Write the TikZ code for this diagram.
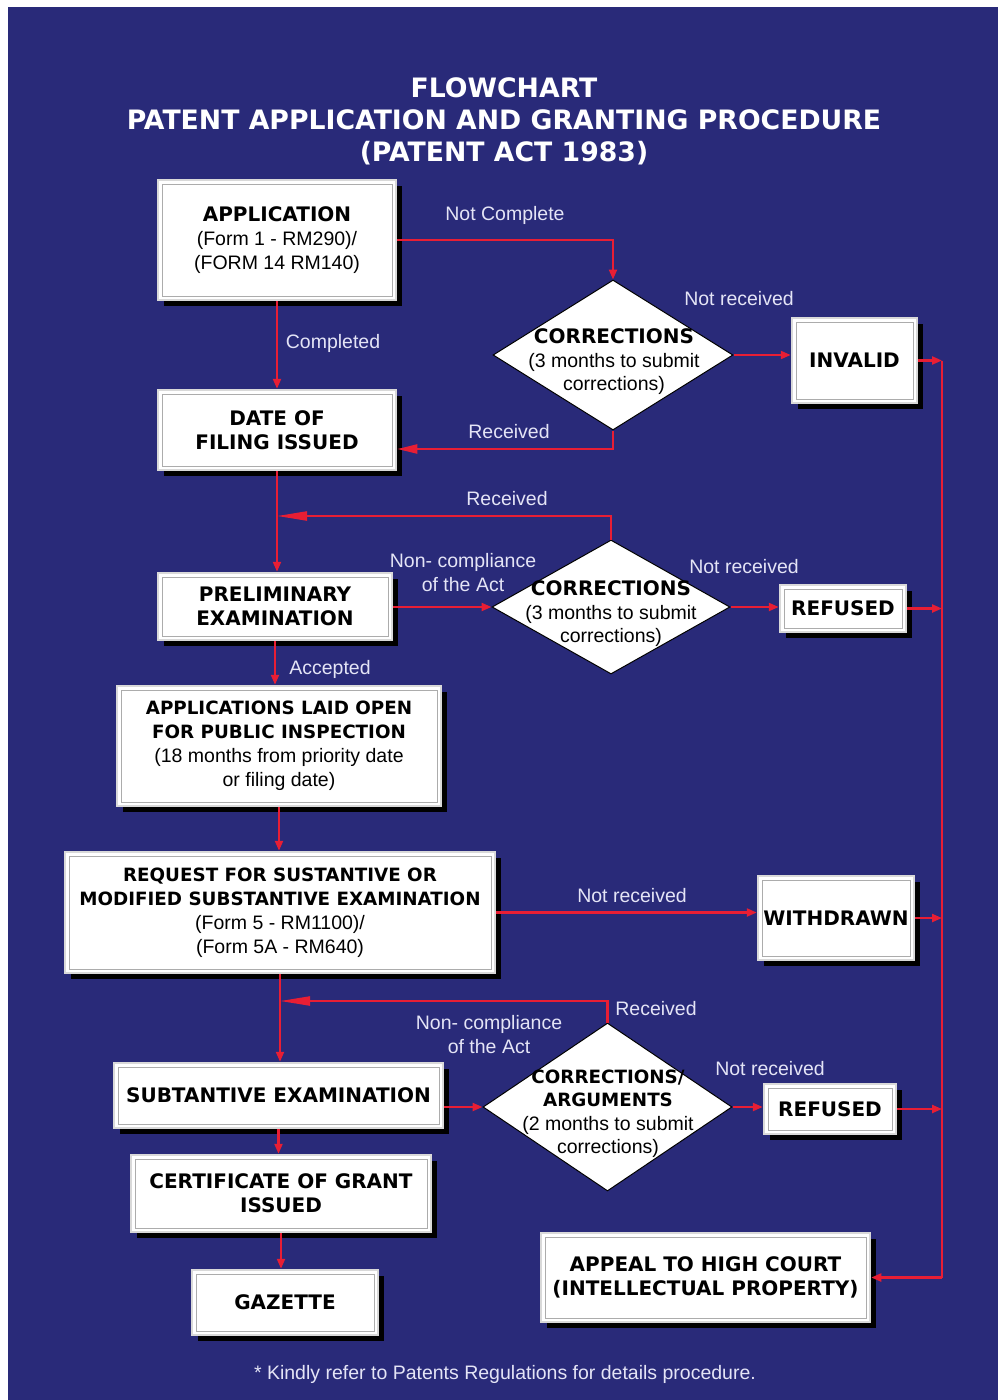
\documentclass[tikz,border=0pt]{standalone}
\usepackage{fontspec}
\setmainfont{Liberation Sans}
\newfontfamily\dvs{DejaVu Sans}
\usetikzlibrary{shapes.geometric,arrows.meta,shadows}
\definecolor{bgblue}{RGB}{41,42,121}
\definecolor{linered}{RGB}{232,30,52}
\definecolor{lbl}{RGB}{228,228,246}
\newcommand{\hb}{\dvs\bfseries\fontsize{20}{24}\selectfont}
\newcommand{\hbs}{\dvs\bfseries\fontsize{18.3}{23.5}\selectfont}
\newcommand{\rg}{\rmfamily\mdseries\fontsize{19.5}{24}\selectfont}
\newcommand{\rgd}{\rmfamily\mdseries\fontsize{19.5}{23.5}\selectfont}
\begin{document}
\begin{tikzpicture}[x=1pt,y=-1pt,
  box/.style={rectangle, fill=white, draw=gray!30, line width=2.5pt, inner sep=0pt,
    align=center, text=black, font=\rg,
    drop shadow={shadow xshift=6pt, shadow yshift=-6pt, opacity=1, fill=black},
    path picture={\draw[gray!65, line width=0.7pt]
      ([shift={(4pt,-4pt)}]path picture bounding box.north west) rectangle
      ([shift={(-4pt,4pt)}]path picture bounding box.south east);}},
  dia/.style={diamond, fill=white, draw=black, line width=1pt, inner sep=0pt},
  dtext/.style={align=center, text=black, font=\rgd, inner sep=0pt},
  lab/.style={align=center, text=lbl, font=\rg, inner sep=0pt},
  link/.style={draw=linered, line width=2.2pt},
  arr/.style={link, -{Triangle[length=10pt,width=8pt]}},
  arrM/.style={link, -{Triangle[length=20pt,width=9pt]}},
  arrL/.style={link, -{Triangle[length=30pt,width=9pt]}}]

\useasboundingbox (0,0) rectangle (998,1400);
\fill[bgblue] (8,7) rectangle (998,1400);

% title
\node[align=center, text=white, font={\dvs\bfseries\fontsize{26.7}{32}\selectfont}, inner sep=0pt] (title) at (504,121)
  {FLOWCHART\\PATENT APPLICATION AND GRANTING PROCEDURE\\(PATENT ACT 1983)};

% main column boxes
\node[box, minimum width=238, minimum height=120] (app) at (277,240)
  {{\hb APPLICATION}\\(Form 1 - RM290)/\\(FORM 14 RM140)};
\node[box, font=\hb, minimum width=238, minimum height=80] (date) at (277,430)
  {DATE OF\\FILING ISSUED};
\node[box, font=\hb, minimum width=234, minimum height=67] (prelim) at (275,606.5)
  {PRELIMINARY\\EXAMINATION};
\node[box, minimum width=324, minimum height=120] (laid) at (279,746)
  {{\hbs APPLICATIONS LAID OPEN}\\{\hbs FOR PUBLIC INSPECTION}\\(18 months from priority date\\or filing date)};
\node[box, minimum width=430, minimum height=121] (req) at (280,912.5)
  {{\hbs REQUEST FOR SUSTANTIVE OR}\\{\hbs MODIFIED SUBSTANTIVE EXAMINATION}\\(Form 5 - RM1100)/\\(Form 5A - RM640)};
\node[box, font=\hb, minimum width=329, minimum height=65] (subst) at (278.5,1095.5)
  {SUBTANTIVE EXAMINATION};
\node[box, font=\hb, minimum width=300, minimum height=77] (cert) at (281,1193.5)
  {CERTIFICATE OF GRANT\\ISSUED};
\node[box, font=\hb, minimum width=186, minimum height=65] (gaz) at (285,1302.5)
  {GAZETTE};

% right column boxes
\node[box, font=\hb, minimum width=125, minimum height=85] (inv) at (854.5,360.5) {INVALID};
\node[box, font=\hb, minimum width=126, minimum height=47] (ref1) at (843,608.5) {REFUSED};
\node[box, font=\hb, minimum width=156, minimum height=84] (wd) at (836,918) {WITHDRAWN};
\node[box, font=\hb, minimum width=132, minimum height=50] (ref2) at (830,1109) {REFUSED};
\node[box, font=\hb, minimum width=329, minimum height=89] (appeal) at (705.5,1277.5)
  {APPEAL TO HIGH COURT\\(INTELLECTUAL PROPERTY)};

% decisions
\node[dia, minimum width=240, minimum height=150] (d1) at (613,355) {};
\node[dtext] (d1t) at (614,362) {{\hb CORRECTIONS}\\(3 months to submit\\corrections)};
\node[dia, minimum width=238, minimum height=134] (d2) at (611,607) {};
\node[dtext] (d2t) at (611,614) {{\hb CORRECTIONS}\\(3 months to submit\\corrections)};
\node[dia, minimum width=249, minimum height=168] (d3) at (607.5,1107) {};
\node[dtext] (d3t) at (608,1113.5) {{\hbs CORRECTIONS/}\\{\hbs ARGUMENTS}\\(2 months to submit\\corrections)};

% helper coordinates
\coordinate (bus) at (942,0);
\coordinate (r1c) at (0,449);
\coordinate (r2c) at (0,516);
\coordinate (r3c) at (0,1001);

% main flow
\draw[arr] (app.south) -- (app.south |- date.north);
\draw[arr] (date.south) -- (date.south |- prelim.north);
\draw[arr] (prelim.south) -- (prelim.south |- laid.north);
\draw[arr] (laid.south) -- (laid.south |- req.north);
\draw[arr] (req.south) -- (req.south |- subst.north);
\draw[arr] (subst.south) -- (subst.south |- cert.north);
\draw[arr] (cert.south) -- (cert.south |- gaz.north);

% first correction loop
\draw[arr] (app.east) -| (d1.north);
\draw[arr] (d1.east) -- (d1.east -| inv.west);
\draw[arrM] (d1.south) -- (d1.south |- r1c) -- (r1c -| date.east);

% second correction loop
\draw[arr] (d2.west -| prelim.east) -- (d2.west);
\draw[arr] (d2.east) -- (d2.east -| ref1.west);
\draw[arrL] (d2.north) -- (d2.north |- r2c) -- (r2c -| date.south);

% withdrawn
\draw[arr] (req.east) -- (req.east -| wd.west);

% third correction loop
\draw[arr] (d3.west -| subst.east) -- (d3.west);
\draw[arr] (d3.east) -- (d3.east -| ref2.west);
\draw[arrL] (d3.north) -- (d3.north |- r3c) -- (r3c -| req.south);

% bus to appeal
\draw[arr] (inv.east) -- (inv.east -| bus);
\draw[arr] (ref1.east) -- (ref1.east -| bus);
\draw[arr] (wd.east) -- (wd.east -| bus);
\draw[arr] (ref2.east) -- (ref2.east -| bus);
\draw[link] (inv.east -| bus) -- (appeal.east -| bus);
\draw[arr] (appeal.east -| bus) -- (appeal.east);

% connector labels
\node[lab] (l1) at (505,215) {Not Complete};
\node[lab] (l2) at (333,343) {Completed};
\node[lab] (l3) at (739,299) {Not received};
\node[lab] (l4) at (509,432) {Received};
\node[lab] (l5) at (507,499) {Received};
\node[lab] (l6) at (463,573) {Non- compliance\\of the Act};
\node[lab] (l7) at (744,567) {Not received};
\node[lab] (l8) at (330,669) {Accepted};
\node[lab] (l9) at (632,896) {Not received};
\node[lab] (l10) at (656,1009) {Received};
\node[lab] (l11) at (489,1035) {Non- compliance\\of the Act};
\node[lab] (l12) at (770,1069) {Not received};

% footer
\node[lab] (foot) at (505,1374) {* Kindly refer to Patents Regulations for details procedure.};
\end{tikzpicture}
\end{document}
